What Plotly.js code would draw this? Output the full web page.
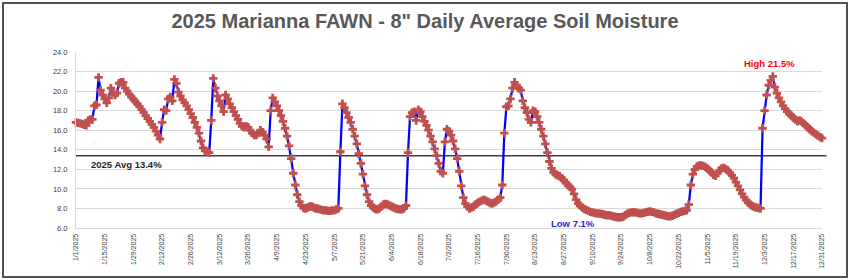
<!DOCTYPE html>
<html>
<head>
<meta charset="utf-8">
<script src="https://cdn.plot.ly/plotly-3.0.1.min.js"></script>
<style>
  html, body { margin: 0; padding: 0; background: #ffffff; }
  #wrap { position: relative; width: 850px; height: 280px; }
  #chart { position: absolute; left: 0; top: 0; width: 850px; height: 280px; }
  #frame { position: absolute; left: 2px; top: 2px; width: 842px; height: 272px; border: 2px solid #505050; pointer-events: none; }
</style>
</head>
<body>
<div id="wrap"><div id="chart"></div><div id="frame"></div></div>
<script>
// Daily average soil moisture (%), 8" depth, Marianna FAWN, 2025 — one array per month
const jan = [16.8,16.75,16.7,16.65,16.55,16.5,17.0,17.1,17.1,18.5,18.6,21.4,20.1,19.6,19.2,18.8,19.3,20.3,19.9,19.6,19.8,20.8,20.9,20.9,20.3,20.0,19.7,19.4,19.2,18.9,18.7];
const feb = [18.4,18.1,17.8,17.5,17.2,16.9,16.6,16.3,15.9,15.5,15.1,16.8,18.1,18.0,19.2,19.4,19.0,21.2,20.8,19.9,19.5,19.1,18.8,18.5,18.1,17.7,17.3,16.8];
const mar = [16.3,15.7,14.9,14.2,13.9,13.8,13.7,17.0,21.3,20.3,19.5,19.0,18.5,17.9,19.6,19.2,18.7,18.3,17.9,17.5,17.1,16.7,16.4,16.3,16.4,16.3,16.0,15.7,15.5,15.5,15.7];
const apr = [16.0,15.8,15.5,15.1,14.3,18.0,19.3,18.9,18.5,18.0,17.5,16.9,16.2,15.4,14.4,13.1,11.6,10.4,9.4,8.7,8.3,8.05,8.0,8.1,8.2,8.2,8.1,8.0,8.0,7.9];
const may = [7.85,7.8,7.8,7.75,7.75,7.8,7.8,7.9,8.0,13.8,18.7,18.3,17.8,17.3,16.8,16.1,15.4,14.6,13.6,12.6,11.5,10.3,9.4,8.7,8.3,8.1,7.95,7.9,8.0,8.2,8.4];
const jun = [8.45,8.4,8.3,8.2,8.1,8.0,7.95,7.9,7.9,8.0,8.3,13.7,17.4,17.8,17.9,17.0,18.1,17.9,17.4,16.9,16.5,16.0,15.4,14.8,14.1,13.4,12.6,11.8,11.6,14.8];
const jul = [16.1,15.9,15.5,14.9,14.1,13.1,11.8,10.3,9.1,8.5,8.2,8.0,8.1,8.2,8.4,8.6,8.7,8.8,8.9,8.8,8.7,8.55,8.5,8.6,8.7,8.9,9.1,10.4,15.7,18.4,18.5];
const aug = [19.2,20.3,20.9,20.6,20.3,20.1,19.0,18.3,17.8,17.1,16.8,18.0,17.9,17.4,16.8,16.1,15.4,14.6,13.7,12.8,12.1,11.7,11.5,11.4,11.3,11.1,10.9,10.6,10.4,10.2,10.0];
const sep = [9.5,8.9,8.5,8.3,8.1,7.95,7.85,7.75,7.65,7.6,7.55,7.5,7.5,7.45,7.4,7.35,7.3,7.3,7.25,7.2,7.15,7.1,7.1,7.1,7.15,7.3,7.45,7.55,7.6,7.6];
const oct = [7.6,7.55,7.5,7.5,7.55,7.6,7.65,7.7,7.65,7.6,7.5,7.45,7.4,7.35,7.3,7.25,7.2,7.2,7.25,7.35,7.45,7.55,7.65,7.7,7.75,7.8,8.4,10.4,11.5,12.0,12.3];
const nov = [12.4,12.4,12.35,12.25,12.1,11.9,11.7,11.45,11.35,11.6,11.9,12.1,12.15,12.05,11.9,11.65,11.4,11.1,10.7,10.3,9.9,9.5,9.15,8.85,8.6,8.4,8.25,8.15,8.1,8.05];
const dec = [8.0,16.2,18.0,19.6,20.6,21.1,21.5,20.4,19.8,19.3,18.9,18.5,18.2,17.9,17.7,17.5,17.3,17.1,16.9,17.0,16.9,16.7,16.5,16.3,16.1,15.9,15.75,15.6,15.45,15.3,15.2];

const avgValue = 13.4;
const highValue = 21.5;
const lowValue = 7.1;

const tickLabels = ['1/1/2025','1/15/2025','1/29/2025','2/12/2025','2/26/2025','3/12/2025','3/26/2025','4/9/2025','4/23/2025','5/7/2025','5/21/2025','6/4/2025','6/18/2025','7/2/2025','7/16/2025','7/30/2025','8/13/2025','8/27/2025','9/10/2025','9/24/2025','10/8/2025','10/22/2025','11/5/2025','11/19/2025','12/3/2025','12/17/2025','12/31/2025'];

const monthly = [jan, feb, mar, apr, may, jun, jul, aug, sep, oct, nov, dec];
const values = [];
const dates = [];
monthly.forEach(function (arr, m) {
  arr.forEach(function (v, i) {
    values.push(v);
    dates.push('2025-' + String(m + 1).padStart(2, '0') + '-' + String(i + 1).padStart(2, '0'));
  });
});

function toIso(lbl) {
  const p = lbl.split('/');
  return p[2] + '-' + p[0].padStart(2, '0') + '-' + p[1].padStart(2, '0');
}
const tickVals = tickLabels.map(toIso);

const font = 'Liberation Sans, Arial, sans-serif';

const trace = {
  type: 'scatter',
  mode: 'lines+markers',
  x: dates,
  y: values,
  line: { color: '#0000ff', width: 2.25 },
  marker: { symbol: 'cross', size: 7, color: '#c0504d', line: { width: 0 } },
  cliponaxis: false,
  hoverinfo: 'skip'
};

const layout = {
  width: 850,
  height: 280,
  margin: { l: 76, r: 28, t: 52, b: 52 },
  paper_bgcolor: '#ffffff',
  plot_bgcolor: '#ffffff',
  showlegend: false,
  title: {
    text: '2025 Marianna FAWN - 8" Daily Average Soil Moisture',
    font: { family: font, size: 20, color: '#595959', weight: 'bold' },
    xref: 'container', x: 0.5, xanchor: 'center',
    yref: 'container', y: 1 - 21 / 280, yanchor: 'middle'
  },
  xaxis: {
    type: 'date',
    range: [dates[0], dates[dates.length - 1]],
    tickmode: 'array',
    tickvals: tickVals,
    ticktext: tickLabels,
    tickangle: -90,
    tickfont: { family: font, size: 7, color: '#404040' },
    showgrid: false,
    zeroline: false,
    showline: true,
    linecolor: '#d9d9d9',
    linewidth: 1,
    ticks: '',
    ticklabelstandoff: 2
  },
  yaxis: {
    range: [6, 24],
    dtick: 2,
    tick0: 6,
    tickformat: '.1f',
    tickfont: { family: font, size: 7.5, color: '#404040' },
    gridcolor: '#d9d9d9',
    gridwidth: 1,
    zeroline: false,
    showline: true,
    linecolor: '#d9d9d9',
    linewidth: 1,
    ticks: '',
    ticklabelstandoff: 6
  },
  shapes: [{
    type: 'line', xref: 'paper', yref: 'y',
    x0: 0, x1: 1.006, y0: avgValue, y1: avgValue,
    line: { color: '#404040', width: 1.5 },
    layer: 'below'
  }],
  annotations: [
    {
      text: '2025 Avg ' + avgValue.toFixed(1) + '%',
      xref: 'paper', x: 13 / 746, xanchor: 'left',
      yref: 'y', y: 12.45, yanchor: 'middle',
      showarrow: false,
      font: { family: font, size: 9.5, color: '#262626', weight: 'bold' }
    },
    {
      text: 'High ' + highValue.toFixed(1) + '%',
      xref: 'paper', x: (769.5 - 76) / 746, xanchor: 'center',
      yref: 'y', y: 22.87, yanchor: 'middle',
      showarrow: false,
      font: { family: font, size: 9.5, color: '#ff0000', weight: 'bold' }
    },
    {
      text: 'Low ' + lowValue.toFixed(1) + '%',
      xref: 'paper', x: (572.7 - 76) / 746, xanchor: 'center',
      yref: 'y', y: 6.5, yanchor: 'middle',
      showarrow: false,
      font: { family: font, size: 9.5, color: '#2626cc', weight: 'bold' }
    }
  ]
};

Plotly.newPlot('chart', [trace], layout, { displayModeBar: false, staticPlot: true });
</script>
</body>
</html>
